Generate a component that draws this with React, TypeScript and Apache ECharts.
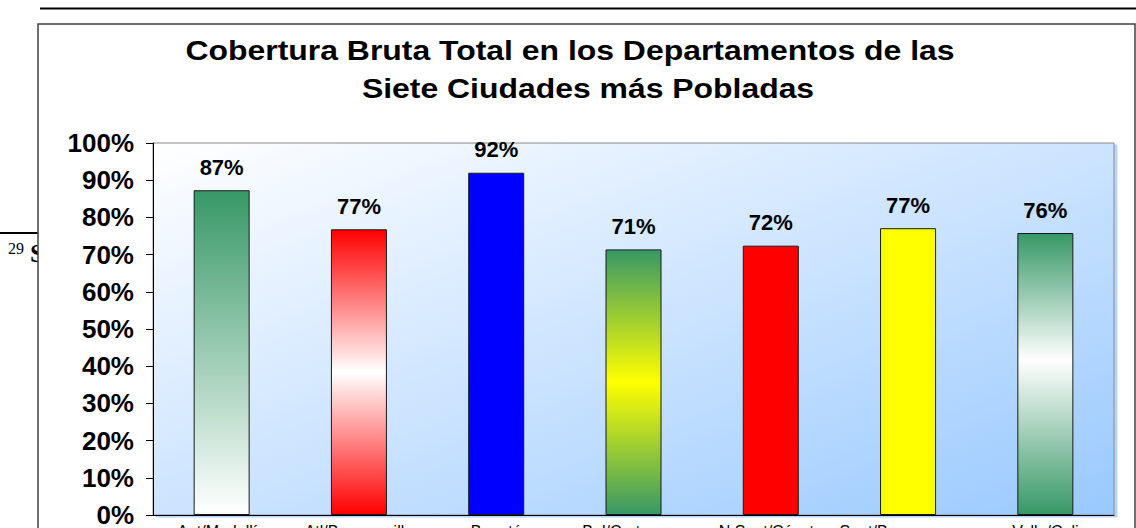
import React, { useEffect, useRef } from "react";
import * as echarts from "echarts";

const categories = [
  "Ant/Medellín",
  "Atl/Barranquilla",
  "Bogotá",
  "Bol/Cartagena",
  "N.Sant/Cúcuta",
  "Sant/Bucaramanga",
  "Valle/Cali",
];
const coverage = [87.3, 76.8, 92.0, 71.4, 72.4, 77.1, 75.8];
const titleLines = [
  "Cobertura Bruta Total en los Departamentos de las",
  "Siete Ciudades más Pobladas",
];

const GREEN = "#379866";
const barFills: any[] = [
  [[0, GREEN], [1, "#ffffff"]],
  [[0, "#ff0000"], [0.5, "#ffffff"], [1, "#ff0000"]],
  "#0000ff",
  [[0, GREEN], [0.5, "#ffff00"], [1, GREEN]],
  "#ff0000",
  "#ffff00",
  [[0, GREEN], [0.45, "#ffffff"], [1, GREEN]],
];

const FONT = "'Liberation Sans', Arial, sans-serif";

function makeFill(f: any) {
  if (typeof f === "string") return f;
  return new echarts.graphic.LinearGradient(
    0, 0, 0, 1,
    f.map((s: any) => ({ offset: s[0], color: s[1] }))
  );
}

export default function App() {
  const ref = useRef<HTMLDivElement>(null);
  useEffect(() => {
    if (!ref.current) return;
    const chart = echarts.init(ref.current, null, { renderer: "svg" });
    const option: any = {
      animation: false,
      backgroundColor: "#ffffff",
      graphic: [
        {
          type: "line",
          z: -5,
          shape: { x1: 40, y1: 8.5, x2: 1136, y2: 8.5 },
          style: { stroke: "#000", lineWidth: 2 },
        },
        {
          type: "line",
          z: -5,
          shape: { x1: 0, y1: 233, x2: 38, y2: 233 },
          style: { stroke: "#000", lineWidth: 2 },
        },
        {
          type: "text",
          z: -5,
          x: 8,
          y: 240,
          style: { text: "29", font: "16px 'Liberation Serif', serif", fill: "#000" },
        },
        {
          type: "text",
          z: -5,
          x: 30,
          y: 240,
          style: { text: "S", font: "bold 26px 'Liberation Serif', serif", fill: "#000" },
        },
        {
          type: "rect",
          z: -1,
          shape: { x: 38, y: 24, width: 1097, height: 530 },
          style: { fill: "#ffffff", stroke: "#404040", lineWidth: 1.5 },
        },
        {
          type: "text",
          z: 10,
          x: 570,
          y: 50,
          scaleX: 1.14,
          style: {
            text: titleLines[0],
            font: "bold 28px " + FONT,
            fill: "#000",
            textAlign: "center",
            textVerticalAlign: "middle",
          },
        },
        {
          type: "text",
          z: 10,
          x: 588,
          y: 88,
          scaleX: 1.14,
          style: {
            text: titleLines[1],
            font: "bold 28px " + FONT,
            fill: "#000",
            textAlign: "center",
            textVerticalAlign: "middle",
          },
        },
      ],
      grid: {
        left: 153,
        top: 143,
        right: 22,
        bottom: 13,
        containLabel: false,
        outerBoundsMode: "none",
        show: true,
        backgroundColor: new echarts.graphic.LinearGradient(0, 0, 1, 1, [
          { offset: 0, color: "#ffffff" },
          { offset: 1, color: "#99c9ff" },
        ]),
        borderColor: "#888888",
        borderWidth: 1,
        shadowColor: "rgba(175,208,248,0.9)",
        shadowOffsetX: 3,
        shadowOffsetY: 2,
        shadowBlur: 0,
      },
      xAxis: {
        type: "category",
        data: categories,
        axisLine: { lineStyle: { color: "#000", width: 1 } },
        axisTick: { length: 4, lineStyle: { color: "#000" } },
        axisLabel: {
          interval: 0,
          fontSize: 16,
          color: "#000",
          margin: 8,
          fontFamily: FONT,
        },
      },
      yAxis: {
        type: "value",
        min: 0,
        max: 100,
        interval: 10,
        axisLine: { show: true, lineStyle: { color: "#000", width: 1 } },
        axisTick: { show: true, length: 7, lineStyle: { color: "#000" } },
        splitLine: { show: false },
        axisLabel: {
          formatter: "{value}%",
          fontSize: 26,
          fontWeight: "bold",
          color: "#000",
          margin: 19,
          fontFamily: FONT,
        },
      },
      series: [
        {
          type: "bar",
          barWidth: 56,
          data: coverage.map((v, i) => ({
            value: v,
            itemStyle: {
              color: makeFill(barFills[i]),
              borderColor: "#1a1a1a",
              borderWidth: 1,
            },
          })),
          label: {
            show: true,
            position: "top",
            distance: 12,
            formatter: (p: any) => Math.round(p.value) + "%",
            fontSize: 22,
            fontWeight: "bold",
            color: "#000",
            fontFamily: FONT,
          },
        },
      ],
    };
    chart.setOption(option);
    return () => chart.dispose();
  }, []);
  return (
    <div
      ref={ref}
      style={{
        position: "fixed",
        left: 0,
        top: 0,
        width: 1136,
        height: 528,
        background: "#fff",
      }}
    />
  );
}
